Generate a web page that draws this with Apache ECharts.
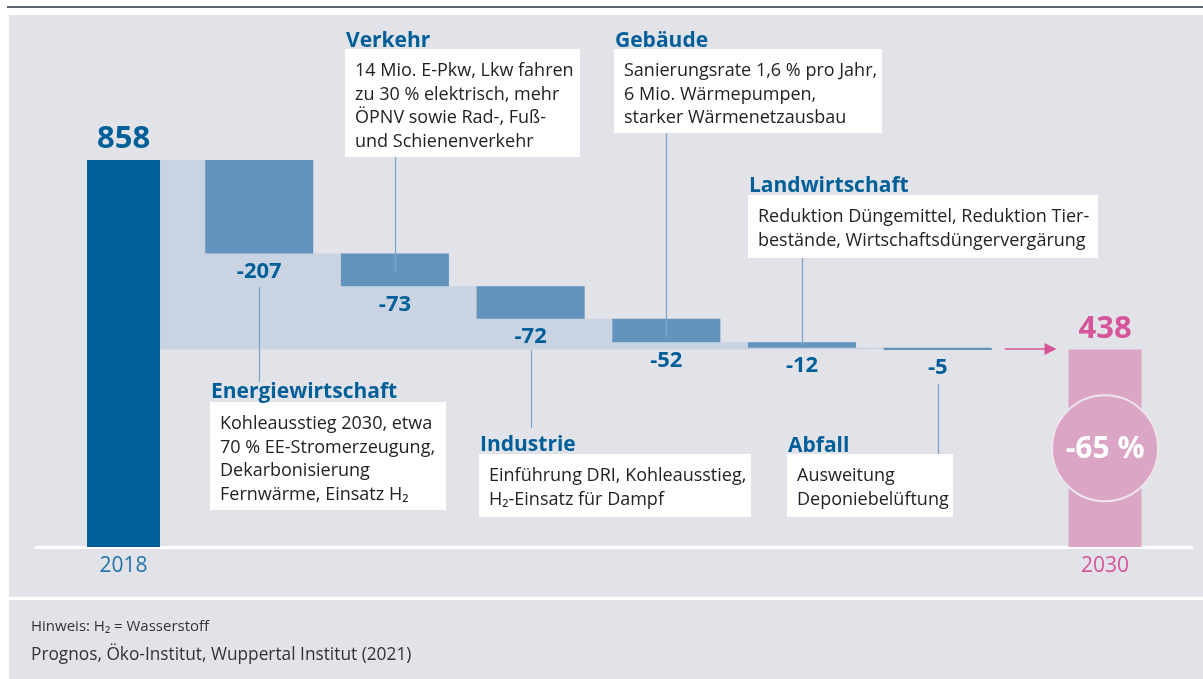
<!DOCTYPE html>
<html>
<head>
<meta charset="utf-8">
<script src="https://cdn.jsdelivr.net/npm/echarts@6/dist/echarts.min.js"></script>
<style>
  html, body { margin: 0; padding: 0; background: #fff; }
  #chart { width: 1203px; height: 679px; }
</style>
</head>
<body>
<div id="chart"></div>
<script>
// values (Mio. t CO2-Äq.)
const yearLabels = ['2018', '2030'];
const startTotal = 858;
const endTotal = 438;
const sectors = ['Energiewirtschaft', 'Verkehr', 'Industrie', 'Gebäude', 'Landwirtschaft', 'Abfall'];
const steps = [-207, -73, -72, -52, -12, -5];
const notes = [
  ['Kohleausstieg 2030, etwa', '70 % EE-Stromerzeugung,', 'Dekarbonisierung', 'Fernwärme, Einsatz H₂'],
  ['14 Mio. E-Pkw, Lkw fahren', 'zu 30 % elektrisch, mehr', 'ÖPNV sowie Rad-, Fuß-', 'und Schienenverkehr'],
  ['Einführung DRI, Kohleausstieg,', 'H₂-Einsatz für Dampf'],
  ['Sanierungsrate 1,6 % pro Jahr,', '6 Mio. Wärmepumpen,', 'starker Wärmenetzausbau'],
  ['Reduktion Düngemittel, Reduktion Tier-', 'bestände, Wirtschaftsdüngervergärung'],
  ['Ausweitung', 'Deponiebelüftung']
];
const reductionText = '-65 %';
const hint = 'Hinweis: H₂ = Wasserstoff';
const source = 'Prognos, Öko-Institut, Wuppertal Institut (2021)';

// layout
const FONT = '"Open Sans", sans-serif';
const BLUE = '#005f99';
const STEP = '#6294bd';
const BAND = '#cad3e1';
const PINK_BAR = '#dba5c6';
const PINK = '#d5549a';
const xMin = -0.645, xMax = 7.874;
const gridLeft = 36, gridRight = 11, gridTop = 96, gridBottom = 132;
const pxPerUnit = (1203 - gridLeft - gridRight) / (xMax - xMin);
const totalBarW = 73, stepBarW = 108;
const stepX = steps.map((d, i) => i + 1);
const totalX = [0, 7.233];

// running totals
const after = [];
let run = startTotal;
steps.forEach(d => { run += d; after.push(run); });

// stepped light band behind the bars
const bandPts = [[totalX[0] + totalBarW / 2 / pxPerUnit, startTotal]];
stepX.forEach((x, i) => bandPts.push([x + stepBarW / 2 / pxPerUnit, i === steps.length - 1 ? endTotal : after[i]]));

// annotation boxes: [boxX, boxY, boxW, boxH, titleY, lineY1, lineY2]
const boxes = [
  [210, 402, 236, 108, 392, 287, 382],
  [345, 49, 235, 108, 41, 157, 272],
  [479, 454, 272, 63, 445, 350, 428],
  [614, 49, 268, 84, 41, 133, 337],
  [748, 195, 350, 63, 186, 258, 346],
  [787, 454, 166, 63, 446, 384, 454]
];

const chart = echarts.init(document.getElementById('chart'));

const option = {
  backgroundColor: '#fff',
  animation: false,
  grid: { left: gridLeft, right: gridRight, top: gridTop, bottom: gridBottom },
  xAxis: [
    {
      type: 'value', min: xMin, max: xMax,
      axisLine: { show: true, lineStyle: { color: '#fff', width: 3 } },
      axisTick: { show: false }, axisLabel: { show: false }, splitLine: { show: false }
    },
    {
      type: 'value', min: xMin, max: xMax, show: false,
      splitLine: { show: false }
    }
  ],
  yAxis: { type: 'value', min: 0, max: 1000, show: false },
  series: [
    {
      name: 'band', type: 'line', step: 'end', xAxisIndex: 0,
      data: bandPts, symbol: 'none', silent: true, z: 1,
      lineStyle: { width: 0 },
      areaStyle: { color: BAND, opacity: 1, origin: endTotal }
    },
    {
      name: 'step', type: 'custom', xAxisIndex: 0, z: 2,
      data: stepX.map((x, i) => [x, after[i] - steps[i], after[i], steps[i]]),
      encode: { x: 0, y: [1, 2] },
      renderItem: (params, api) => {
        const top = api.coord([api.value(0), api.value(1)]);
        const bot = api.coord([api.value(0), api.value(2)]);
        return {
          type: 'group',
          children: [
            {
              type: 'rect',
              shape: { x: top[0] - stepBarW / 2, y: top[1], width: stepBarW, height: Math.max(bot[1] - top[1], 2) },
              style: { fill: STEP }
            },
            {
              type: 'text',
              style: {
                text: String(api.value(3)), x: top[0], y: bot[1] + 7,
                fill: BLUE, font: 'bold 22px ' + FONT, align: 'center', verticalAlign: 'top'
              }
            }
          ]
        };
      }
    },
    {
      name: 'total', type: 'bar', xAxisIndex: 1, barWidth: totalBarW, z: 2,
      data: [
        { value: [totalX[0], startTotal], itemStyle: { color: BLUE }, label: { color: BLUE } },
        { value: [totalX[1], endTotal], itemStyle: { color: PINK_BAR }, label: { color: PINK } }
      ],
      label: {
        show: true, position: 'top', distance: 5,
        formatter: p => String(p.value[1]),
        fontFamily: FONT, fontWeight: 'bold', fontSize: 31
      }
    },
    {
      name: 'years', type: 'scatter', xAxisIndex: 1, symbolSize: 1, z: 3,
      itemStyle: { color: 'rgba(0,0,0,0)', opacity: 1 },
      data: [
        { value: [totalX[0], 0], name: yearLabels[0], label: { color: '#2473ad' } },
        { value: [totalX[1], 0], name: yearLabels[1], label: { color: PINK } }
      ],
      label: {
        show: true, position: 'bottom', distance: 8, opacity: 1,
        formatter: p => p.name,
        fontFamily: FONT, fontSize: 21
      }
    }
  ]
};

chart.setOption(option);

// decorations anchored to the chart's scales
const graphics = [
  { type: 'rect', z: 0, shape: { x: 9, y: 15, width: 1194, height: 582 }, style: { fill: '#e2e3e8' } },
  { type: 'rect', z: 0, shape: { x: 9, y: 600, width: 1194, height: 79 }, style: { fill: '#e2e3e8' } },
  { type: 'line', z: 0, shape: { x1: 7, y1: 7, x2: 1203, y2: 7 }, style: { stroke: '#5f6670', lineWidth: 2 } },
  { type: 'text', z: 7, style: { text: hint, x: 31, y: 627, fill: '#333', font: '15px ' + FONT, verticalAlign: 'middle' } },
  { type: 'text', z: 7, style: { text: source, x: 31, y: 655, fill: '#333', font: '17.3px ' + FONT, verticalAlign: 'middle' } }
];

boxes.forEach((b, i) => {
  const lx = Math.round(chart.convertToPixel({ xAxisIndex: 0 }, stepX[i])) + 0.5;
  graphics.push(
    { type: 'line', z: 6, shape: { x1: lx, y1: b[5], x2: lx, y2: b[6] }, style: { stroke: '#7ea6cb', lineWidth: 1.3 } },
    { type: 'rect', z: 5, shape: { x: b[0], y: b[1], width: b[2], height: b[3] }, style: { fill: '#fff' } },
    { type: 'text', z: 7, style: { text: sectors[i], x: b[0] + 1, y: b[4], fill: BLUE, font: 'bold 21px ' + FONT, verticalAlign: 'middle' } },
    { type: 'text', z: 7, style: { text: notes[i].join('\n'), x: b[0] + 10, y: b[1] + 10, fill: '#222', font: '18px ' + FONT, lineHeight: 23.6, verticalAlign: 'top' } }
  );
});

// arrow to the 2030 bar
const endY = Math.round(chart.convertToPixel({ yAxisIndex: 0 }, endTotal));
const arrowX1 = chart.convertToPixel({ xAxisIndex: 0 }, stepX[stepX.length - 1]) + stepBarW / 2 + 13;
const arrowX2 = chart.convertToPixel({ xAxisIndex: 1 }, totalX[1]) - totalBarW / 2 - 12;
graphics.push(
  { type: 'line', z: 6, shape: { x1: arrowX1, y1: endY, x2: arrowX2 - 10, y2: endY }, style: { stroke: PINK, lineWidth: 1.5 } },
  { type: 'polygon', z: 6, shape: { points: [[arrowX2 - 12, endY - 6], [arrowX2, endY], [arrowX2 - 12, endY + 6]] }, style: { fill: PINK } }
);

// reduction badge in the middle of the 2030 bar
const c = chart.convertToPixel({ xAxisIndex: 1, yAxisIndex: 0 }, [totalX[1], endTotal / 2]);
graphics.push(
  { type: 'circle', z: 8, shape: { cx: c[0], cy: c[1], r: 53 }, style: { fill: PINK_BAR, stroke: '#ece6ec', lineWidth: 2 } },
  { type: 'text', z: 9, style: { text: reductionText, x: c[0], y: c[1] + 1, fill: '#fff', font: 'bold 30px ' + FONT, align: 'center', verticalAlign: 'middle' } }
);

chart.setOption({ graphic: graphics });
</script>
</body>
</html>
